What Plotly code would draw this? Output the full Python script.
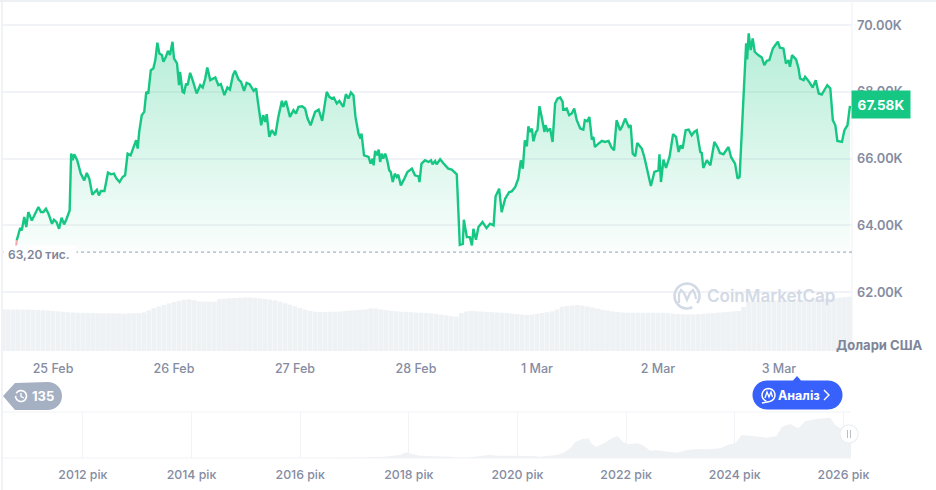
#loading necessary libraries
import numpy as np
import plotly.graph_objects as go

#price line (hours counted from 25 Feb, price in thousand USD)
hours = [
    -7.2,-6.9,-6.5,-6.2,-5.7,-5.3,-4.9,-4.2,-3.6,-2.9,
    -2.4,-1.9,-1.4,-0.9,-0.2,0.2,0.7,1.2,1.7,2.2,
    2.7,3.3,3.6,3.9,4.2,4.8,5.5,6.2,6.7,7.2,
    7.8,8.7,9.1,9.5,10.2,10.9,11.5,12.1,12.6,13.2,
    13.8,14.3,14.8,15.4,16.0,16.5,16.8,17.1,17.6,18.1,
    18.5,18.9,19.4,19.9,20.3,20.7,21.1,21.6,21.9,22.4,
    22.8,23.2,23.7,24.0,24.6,25.0,25.2,25.7,26.0,26.4,
    26.7,27.2,27.7,28.5,29.2,29.7,30.2,30.6,31.2,32.2,
    32.8,33.3,34.0,34.6,35.1,35.7,36.1,36.8,37.3,37.9,
    38.4,39.0,39.8,40.3,40.6,40.8,41.3,41.7,42.1,42.4,
    42.9,43.4,44.1,44.7,45.4,45.7,46.2,47.0,47.7,48.2,
    48.7,49.4,50.0,50.5,51.1,52.0,52.7,
    53.4,54.3,54.8,55.3,55.7,56.3,56.8,57.6,58.1,58.6,
    59.1,59.6,60.0,60.6,61.0,61.2,61.7,62.6,63.0,63.4,
    63.6,63.9,64.3,64.6,64.9,65.2,65.5,65.9,66.3,66.7,
    67.0,67.4,67.8,68.2,68.5,69.0,69.6,70.3,71.2,71.8,
    72.5,72.7,73.1,73.8,74.5,75.0,75.3,75.8,76.1,76.8,
    77.4,78.4,79.1,80.1,80.7,81.3,81.5,82.1,82.7,83.1,
    83.4,83.9,84.4,85.2,86.0,86.7,87.4,87.8,88.5,89.0,
    89.7,90.5,91.0,91.7,92.3,92.8,93.2,93.6,94.0,94.3,
    94.6,95.0,95.3,95.8,96.1,96.5,97.0,97.5,97.7,98.1,
    98.6,99.1,99.6,100.1,100.6,101.1,101.2,101.9,102.4,102.9,
    103.4,103.9,104.6,105.2,105.5,106.0,106.4,106.9,107.2,107.5,
    108.2,108.9,109.5,110.2,110.8,111.3,111.8,
    112.5,113.0,113.5,114.2,114.6,115.0,115.5,115.9,116.8,117.3,
    117.8,118.6,119.3,120.1,120.3,120.6,121.1,121.6,122.3,123.0,
    123.6,124.1,124.5,124.9,125.5,126.1,126.7,127.2,127.7,128.4,
    128.7,129.0,129.7,130.4,131.2,131.8,132.3,133.0,134.0,134.5,
    134.9,135.3,135.8,136.2,137.5,137.7,138.0,138.4,138.8,139.2,
    139.9,140.6,141.1,141.6,142.1,142.8,143.3,143.8,144.2,144.9,
    145.4,145.9,146.2,146.6,147.4,147.9,148.2,148.9,149.2,149.9,
    150.7,151.3,151.9,152.5,153.2,153.6,154.2,154.7,155.2,155.6,
    156.5,157.0,157.6,158.1,
]
prices = [
    63.55,63.70,63.93,63.85,64.25,63.95,64.40,64.15,64.35,64.55,
    64.40,64.40,64.50,64.35,64.05,64.17,64.10,63.90,64.23,64.03,
    64.20,64.45,66.15,65.95,66.13,65.95,65.55,65.35,65.57,65.40,
    64.92,65.07,64.90,65.03,65.03,65.58,65.53,65.55,65.40,65.30,
    65.45,65.50,66.15,66.10,66.35,66.55,66.30,66.80,67.30,67.40,
    68.00,67.95,68.65,68.70,68.95,69.47,69.15,69.10,68.90,69.05,
    69.23,69.10,69.50,69.00,68.85,68.20,68.60,68.00,67.97,68.25,
    68.20,68.57,68.35,67.95,68.20,68.13,68.40,68.73,68.35,68.43,
    68.20,68.23,67.90,68.13,68.07,68.50,68.63,68.37,68.30,68.03,
    68.27,68.23,68.03,68.10,67.75,67.50,67.00,67.30,67.10,67.33,
    66.65,66.85,66.70,67.25,67.73,67.55,67.73,67.25,67.45,67.35,
    67.55,67.57,67.50,67.20,67.00,67.40,67.47,
    67.13,68.00,67.85,67.80,67.83,67.65,67.73,67.55,67.93,67.80,
    67.98,67.90,67.25,66.75,66.60,66.75,66.10,66.05,65.85,66.00,
    65.80,66.23,66.10,66.27,65.90,66.15,66.00,66.15,65.95,65.65,
    65.60,65.30,65.55,65.45,65.52,65.20,65.37,65.60,65.70,65.50,
    65.47,65.30,65.85,65.95,65.90,65.95,65.83,65.93,65.83,65.98,
    65.87,65.70,65.67,65.53,63.42,63.45,64.17,63.65,63.65,63.40,
    63.90,63.57,63.95,64.10,63.92,64.05,64.00,64.87,65.10,64.40,
    64.80,65.00,65.02,65.15,65.40,65.95,65.70,66.55,66.37,66.97,
    66.80,66.90,66.52,66.80,66.85,67.57,67.20,66.80,67.00,66.83,
    66.90,66.50,67.65,67.80,67.83,67.70,67.47,67.50,67.30,67.35,
    67.50,67.15,66.90,66.87,67.15,67.12,67.25,66.57,66.65,66.35,
    66.45,66.53,66.50,66.53,66.33,66.25,67.15,
    66.85,67.00,67.20,66.95,67.00,66.15,66.07,66.47,66.30,66.05,
    65.75,65.18,65.60,65.65,66.13,65.30,65.97,65.72,66.05,66.73,
    66.65,66.20,66.40,66.30,66.85,66.87,66.70,66.80,66.85,66.20,
    66.17,65.72,65.95,65.80,66.50,66.35,66.17,66.13,66.35,66.05,
    65.95,65.85,65.40,65.45,69.45,68.97,69.75,69.25,69.60,69.20,
    69.10,69.03,68.80,68.93,68.95,69.30,69.40,69.50,69.32,69.30,
    68.85,68.95,68.75,69.10,68.97,68.70,68.40,68.35,68.45,68.32,
    68.13,68.35,67.95,67.92,68.10,68.20,68.10,67.15,67.00,66.53,
    66.50,66.85,67.00,67.58,
]
assert len(hours) == len(prices)

#short red piece of the line below the opening price
red_hours = [-9.7,-9.0,-8.3,-7.6,-7.2]
red_prices = [63.25,63.05,62.95,62.98,63.55]
open_price = 63.2

#volume bars, one per hour (billion USD)
volume_hours = list(range(-10, 159))
volumes = [
    41.7,41.6,41.5,41.6,41.4,41.3,41.2,41.2,40.8,40.4,
    40.0,39.6,39.2,38.8,38.6,38.3,38.2,38.0,37.9,37.8,
    37.7,37.8,37.6,37.7,37.5,37.6,37.7,37.8,38.6,40.6,
    42.8,44.6,46.2,47.6,49.0,50.2,51.2,51.7,50.8,49.6,
    49.3,49.2,49.3,52.0,52.3,52.7,53.0,53.3,53.6,53.7,
    53.2,52.6,52.0,51.4,50.6,49.4,47.8,46.4,44.8,42.9,
    41.5,40.2,39.3,39.0,39.2,39.3,39.4,39.6,40.2,40.6,
    40.8,41.0,41.6,42.6,42.4,41.6,41.0,40.4,39.8,39.3,
    39.1,38.8,38.5,38.2,38.0,37.7,37.2,36.4,35.6,34.8,
    34.3,38.0,39.6,40.0,39.8,39.5,39.2,38.9,38.6,38.3,
    37.9,37.4,36.9,36.4,36.0,36.4,37.2,38.0,38.8,39.6,
    41.6,44.3,45.0,45.6,46.0,45.5,44.6,43.5,42.4,41.2,
    40.4,39.6,39.0,38.6,38.3,38.4,38.3,38.2,38.3,38.3,
    38.2,38.3,37.9,37.4,37.0,36.8,36.7,36.6,36.8,37.2,
    37.6,38.0,38.4,38.8,39.2,39.6,40.0,44.0,49.3,49.6,
    49.8,50.0,50.2,50.4,50.5,50.7,50.9,51.0,51.2,51.3,
    51.5,51.7,51.9,52.2,52.5,52.7,53.2,53.8,54.3,
]
assert len(volume_hours) == len(volumes)

#small overview chart at the bottom (year, price in thousand USD)
nav_years = [
    2010.53,2016.92,2017.53,2017.84,2017.96,2018.05,2018.21,2018.45,2018.76,2019.05,
    2019.30,2019.48,2019.66,2019.96,2020.28,2020.42,2020.72,2020.85,2020.97,2021.06,
    2021.18,2021.31,2021.37,2021.46,2021.55,2021.64,2021.74,2021.84,2021.94,2022.04,
    2022.17,2022.26,2022.35,2022.44,2022.56,2022.75,2022.93,2023.12,2023.30,2023.49,
    2023.73,2023.91,2024.01,2024.13,2024.34,2024.59,2024.77,2024.87,2025.02,2025.17,
    2025.30,2025.51,2025.76,2025.85,2025.94,2026.14,
]
nav_prices = [
    0,0.5,4,9,17,12,7,6,4,1,
    6,9,7,7,6,4,9,16,29,47,
    56,59,41,34,41,49,59,66,49,41,
    44,42,34,22,23,19,16,24,27,26,
    29,41,44,69,66,61,66,94,102,89,
    111,117,121,99,89,89,
]
assert len(nav_years) == len(nav_prices)

#tick labels
price_ticks = [62, 64, 66, 68, 70]
price_labels = ["62.00K", "64.00K", "66.00K", "68.00K", "70.00K"]
day_ticks = [0, 24, 48, 72, 96, 120, 144]
day_labels = ["25 Feb", "26 Feb", "27 Feb", "28 Feb", "1 Mar", "2 Mar", "3 Mar"]
year_ticks = [2012, 2014, 2016, 2018, 2020, 2022, 2024, 2026]
year_labels = [str(y) + " рік" for y in year_ticks]

#colours
green = "#16c784"
gray_text = "#858ca2"
grid = "#f2f3f6"
bar_gray = "#eff2f5"
pale_logo = "#d3dae6"
blue = "#3861fb"
tag_gray = "#a6b0c3"

W = 936
H = 490
FONT = "Inter"


#turn window pixels into paper coordinates for the decorations
def px(x):
    return x / W


def py(y):
    return 1 - y / H


def arc(cx, cy, r, a0, a1, n=24):
    pts = []
    for a in np.radians(np.linspace(a0, a1, n)):
        pts.append((cx + r * np.cos(a), cy + r * np.sin(a)))
    return pts


def to_path(pts, close=False):
    s = "M" + " L".join(f"{px(x):.5f},{py(y):.5f}" for x, y in pts)
    return s + (" Z" if close else "")


def deco(pts, fill=None, line=None, width=1, close=False):
    return dict(type="path", xref="paper", yref="paper", layer="above", path=to_path(pts, close),
                fillcolor=fill if fill else "rgba(0,0,0,0)",
                line=dict(color=line if line else "rgba(0,0,0,0)", width=width))


fig = go.Figure()

#volume bars behind the price
fig.add_trace(go.Bar(x=volume_hours, y=volumes, yaxis="y2", marker=dict(color=bar_gray, line=dict(width=0)),
                     hoverinfo="skip"))

#invisible line at the opening price, the green fill stops here
fig.add_trace(go.Scatter(x=hours, y=[open_price] * len(hours), mode="lines", line=dict(width=0, color="rgba(0,0,0,0)"),
                         hoverinfo="skip"))

#price line with gradient fill
fig.add_trace(go.Scatter(x=hours, y=prices, mode="lines", line=dict(color=green, width=2.4), fill="tonexty",
                         fillgradient=dict(type="vertical", start=open_price, stop=69.8,
                                           colorscale=[[0, "rgba(22,199,132,0.02)"], [1, "rgba(22,199,132,0.32)"]])))

fig.add_trace(go.Scatter(x=red_hours, y=red_prices, mode="lines", line=dict(color="#f6a5ad", width=2)))

#overview area
fig.add_trace(go.Scatter(x=nav_years, y=nav_prices, xaxis="x2", yaxis="y3", mode="lines", line=dict(width=0),
                         fill="tozeroy", fillcolor=bar_gray))

fig.update_layout(
    width=W, height=H, margin=dict(l=0, r=0, t=0, b=0, autoexpand=False), showlegend=False, bargap=0.05,
    paper_bgcolor="white", plot_bgcolor="white", font=dict(family=FONT, color=gray_text, size=13),
    xaxis=dict(domain=[px(3), px(852)], range=[-9.92, 158.5], tickvals=day_ticks, ticktext=day_labels, anchor="y",
               showgrid=False, zeroline=False, ticks="", ticklabelstandoff=8,
               tickfont=dict(size=12.5, color=gray_text, family=FONT, weight=500)),
    yaxis=dict(domain=[py(351), 1], range=[60.24, 70.75], side="right", anchor="x", tickvals=price_ticks,
               ticktext=price_labels, gridcolor=grid, gridwidth=1.5, zeroline=False, ticks="",
               ticklabelstandoff=4, tickfont=dict(size=12.8, color=gray_text, family=FONT, weight=600)),
    yaxis2=dict(domain=[py(351), 1], range=[0, 351], overlaying="y", visible=False),
    xaxis2=dict(domain=[px(3), px(851)], range=[2010.53, 2026.14], anchor="y3", tickvals=year_ticks, ticktext=year_labels,
                showgrid=True, gridcolor=grid, zeroline=False, ticks="", ticklabelstandoff=8,
                tickfont=dict(size=12.3, color=gray_text, family=FONT, weight=500)),
    yaxis3=dict(domain=[py(458), py(412)], range=[0, 138], anchor="x2", showgrid=False, zeroline=False,
                showticklabels=False, showline=False),
)

shapes = []

#frame lines and the dotted line of the opening price
shapes.append(dict(type="line", xref="paper", yref="paper", x0=px(0), x1=1, y0=py(1), y1=py(1),
                   line=dict(color="#e9ecf0", width=1.5)))
shapes.append(dict(type="line", xref="paper", yref="paper", x0=px(2), x1=px(2), y0=0, y1=1,
                   line=dict(color="#eceef2", width=1.5)))
shapes.append(dict(type="line", xref="paper", yref="paper", x0=px(852), x1=px(852), y0=py(351), y1=py(1),
                   line=dict(color="#eff1f4", width=1)))
shapes.append(dict(type="line", xref="paper", yref="paper", x0=px(3), x1=px(851), y0=py(412), y1=py(412),
                   line=dict(color=grid, width=1)))
shapes.append(dict(type="line", xref="paper", yref="paper", x0=px(3), x1=px(851), y0=py(458), y1=py(458),
                   line=dict(color=grid, width=1)))
shapes.append(dict(type="line", xref="x", yref="y", x0=-9.9, x1=158.5, y0=open_price, y1=open_price,
                   line=dict(color="#a6b0c3", width=1.2, dash="dot")))

#coinmarketcap watermark logo
shapes.append(deco(arc(687, 296, 12.5, 65, 395), line=pale_logo, width=2.6))
shapes.append(deco([(679, 303), (679, 294), (681, 290), (684, 293), (687, 300), (690, 293), (693, 290), (695, 294), (696, 299)],
                   line=pale_logo, width=2.2))

#gray tag with the counter
tag = [(3, 396), (15, 383)] + arc(48, 396, 14, -90, 90) + [(15, 410)]
shapes.append(deco(tag, fill=tag_gray, close=True))
shapes.append(deco(arc(21, 396, 5.5, -150, 180, 18), line="white", width=1.6))
shapes.append(deco([(21, 393), (21, 396.5), (24, 398)], line="white", width=1.3))

#blue pill with its little tip
pill = arc(767, 395, 14.5, 90, 270) + [(793, 380.5), (797, 376), (801, 380.5)] + arc(828, 395, 14.5, -90, 90)
shapes.append(deco(pill, fill=blue, close=True))
shapes.append(deco(arc(768.5, 395, 6.5, 110, 440, 20) + [(762, 403)], line="white", width=1.5))
shapes.append(deco([(765, 398), (767, 392), (769, 397), (771, 392), (772.5, 397)], line="white", width=1.3))
shapes.append(deco([(824, 390), (829, 395), (824, 400)], line="white", width=1.4))

#white handle of the overview range
shapes.append(deco(arc(849, 434, 9.5, 0, 360, 32), fill="#e9ecf1", close=True))
shapes.append(deco(arc(849, 434, 8.5, 0, 360, 32), fill="white", close=True))
shapes.append(deco([(847.5, 430), (847.5, 438)], line="#b8bfcc", width=1))
shapes.append(deco([(850.5, 430), (850.5, 438)], line="#b8bfcc", width=1))

fig.update_layout(shapes=shapes)

#labels on top of the chart
fig.add_annotation(x=px(3), y=py(254), xref="paper", yref="paper", xanchor="left", yanchor="middle", showarrow=False,
                   text=" 63,20 тис.  ", bgcolor="white", font=dict(size=12, color="#7d8599", family=FONT, weight=600))
fig.add_annotation(x=px(851), y=py(104.5), xref="paper", yref="paper", xanchor="left", yanchor="middle", showarrow=False,
                   text="67.58K", bgcolor=green, width=56, height=25, align="center",
                   font=dict(size=13.5, color="white", family=FONT, weight=700))
fig.add_annotation(x=px(879), y=py(345), xref="paper", yref="paper", xanchor="center", yanchor="middle", showarrow=False,
                   text="Долари США", font=dict(size=13, color="#7d8599", family=FONT, weight=700))
fig.add_annotation(x=px(771), y=py(296), xref="paper", yref="paper", xanchor="center", yanchor="middle", showarrow=False,
                   text="CoinMarketCap", font=dict(size=17, color=pale_logo, family=FONT, weight=600))
fig.add_annotation(x=px(43), y=py(396), xref="paper", yref="paper", xanchor="center", yanchor="middle", showarrow=False,
                   text="135", font=dict(size=13, color="white", family=FONT, weight=700))
fig.add_annotation(x=px(799), y=py(395), xref="paper", yref="paper", xanchor="center", yanchor="middle", showarrow=False,
                   text="Аналіз", font=dict(size=12.5, color="white", family=FONT, weight=700))

#save, with no page margin around the chart
fig.write_html("out.html", config=dict(displayModeBar=False), post_script="document.body.style.margin='0';")
